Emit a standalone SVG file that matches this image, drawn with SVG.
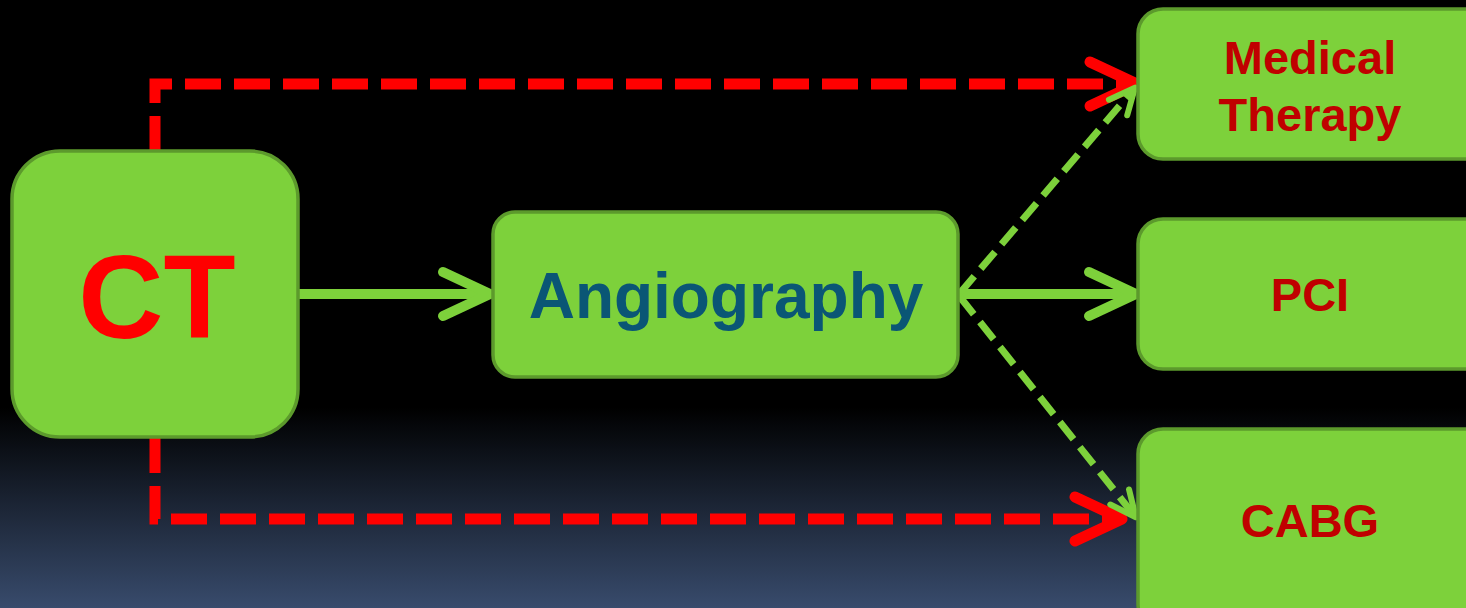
<svg xmlns="http://www.w3.org/2000/svg" width="1466" height="608" viewBox="0 0 1466 608">
  <defs>
    <linearGradient id="bg" x1="0" y1="0" x2="0" y2="1">
      <stop offset="0" stop-color="#000000"/>
      <stop offset="0.67" stop-color="#000000"/>
      <stop offset="1" stop-color="#384b6c"/>
    </linearGradient>
    <marker id="arrG" markerUnits="userSpaceOnUse" viewBox="-60 -35 70 70" markerWidth="70" markerHeight="70" refX="-6" refY="0" orient="auto" overflow="visible">
      <path d="M-47,-22 L0,0 L-47,22" fill="none" stroke="#7dd13b" stroke-width="10" stroke-linecap="round" stroke-linejoin="round"/>
    </marker>
    <marker id="arrR" markerUnits="userSpaceOnUse" viewBox="-60 -35 70 70" markerWidth="70" markerHeight="70" refX="-6" refY="0" orient="auto" overflow="visible">
      <path d="M-47,-22 L0,0 L-47,22" fill="none" stroke="#ff0000" stroke-width="11" stroke-linecap="round" stroke-linejoin="round"/>
    </marker>
    <marker id="arrGs" markerUnits="userSpaceOnUse" viewBox="-40 -20 50 40" markerWidth="50" markerHeight="40" refX="-3" refY="0" orient="auto" overflow="visible">
      <path d="M-26,-12 L0,0 L-26,12" fill="none" stroke="#7dd13b" stroke-width="6" stroke-linecap="round" stroke-linejoin="round"/>
    </marker>
  </defs>
  <style>
    .box { fill: #7dd13b; stroke: #5c9a2c; stroke-width: 3.5; }
    .lbl { font-family: "Liberation Sans", Arial, sans-serif; font-weight: bold; text-anchor: middle; }
    .dark { fill: #c00000; font-size: 47px; }
    .red-dash { fill: none; stroke: #ff0000; stroke-width: 11; stroke-dasharray: 36 13; }
    .green-solid { fill: none; stroke: #7dd13b; stroke-width: 10; }
    .green-dash { fill: none; stroke: #7dd13b; stroke-width: 7; stroke-dasharray: 22 10; }
  </style>
  <rect x="0" y="0" width="1466" height="608" fill="url(#bg)"/>

  <g id="connectors">
    <path class="red-dash" d="M155,152 V84 H1131" marker-end="url(#arrR)"/>
    <path class="red-dash" d="M155,437 V519 H1116" marker-end="url(#arrR)"/>
    <path class="green-solid" d="M298,294 H484" marker-end="url(#arrG)"/>
    <path class="green-solid" d="M958,294 H1130" marker-end="url(#arrG)"/>
    <path class="green-dash" d="M960,293 L1133,90" marker-end="url(#arrGs)"/>
    <path class="green-dash" d="M960,297 L1134,515" marker-end="url(#arrGs)"/>
  </g>

  <g id="node-ct">
    <rect class="box" x="12" y="151" width="286" height="286" rx="48"/>
    <text class="lbl" x="157" y="338" font-size="118" fill="#ff0000">CT</text>
  </g>
  <g id="node-angiography">
    <rect class="box" x="493" y="212" width="465" height="165" rx="22"/>
    <text class="lbl" x="726" y="318" font-size="64" fill="#0a5675">Angiography</text>
  </g>
  <g id="node-medical">
    <rect class="box" x="1138" y="9" width="360" height="150" rx="25"/>
    <text class="lbl dark" x="1310" y="74">Medical</text>
    <text class="lbl dark" x="1310" y="131">Therapy</text>
  </g>
  <g id="node-pci">
    <rect class="box" x="1138" y="219" width="360" height="150" rx="25"/>
    <text class="lbl dark" x="1310" y="311">PCI</text>
  </g>
  <g id="node-cabg">
    <rect class="box" x="1138" y="429" width="360" height="200" rx="25"/>
    <text class="lbl dark" x="1310" y="537">CABG</text>
  </g>
</svg>
